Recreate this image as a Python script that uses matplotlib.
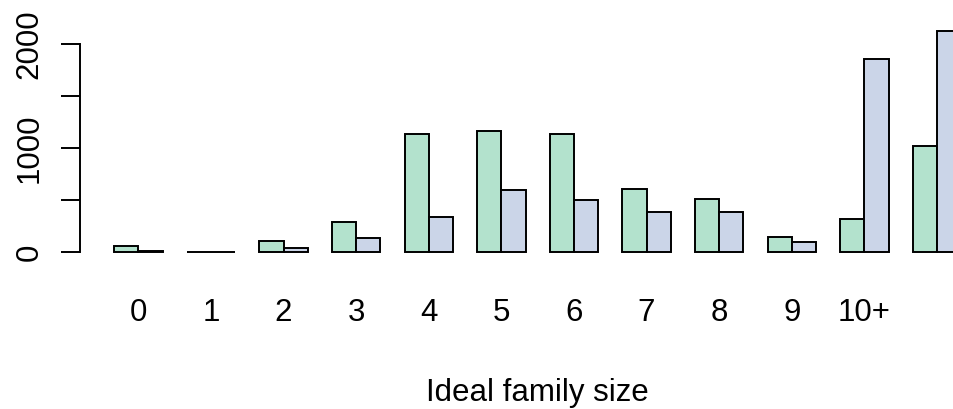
import numpy as np
import matplotlib
matplotlib.use("Agg")
import matplotlib.pyplot as plt

# ideal family size counts, two groups (green / blue)
categories = ["0", "1", "2", "3", "4", "5", "6", "7", "8", "9", "10+", ""]
green_counts = [55, 4, 106, 288, 1138, 1166, 1131, 606, 510, 147, 314, 1019]
blue_counts = [5, 3, 35, 138, 337, 593, 503, 382, 388, 93, 1853, 2122]
y_ticks = [0, 500, 1000, 1500, 2000]
y_labels = ["0", "", "1000", "", "2000"]

plt.rcParams['font.family'] = ['Liberation Sans', 'DejaVu Sans']

fig = plt.figure(figsize=(9.54, 4.09), dpi=100)
ax = fig.add_axes([0.0842, 0.3623, 0.9588, 0.5827])

n = len(categories)
left = np.arange(n) * 3 + 1
ax.bar(left, green_counts, width=1, align='edge', color='#B3E2CD',
       edgecolor='black', linewidth=1.4)
ax.bar(left + 1, blue_counts, width=1, align='edge', color='#CBD5E8',
       edgecolor='black', linewidth=1.4)

# R-style axis extents (4% padding)
xmax = left[-1] + 2
xr = xmax - left[0]
ax.set_xlim(left[0] - 0.04 * xr, xmax + 0.04 * xr)
ymax = max(max(green_counts), max(blue_counts))
ax.set_ylim(-0.04 * ymax, 1.04 * ymax)

for s in ['top', 'right', 'bottom']:
    ax.spines[s].set_visible(False)
ax.spines['left'].set_bounds(0, 2000)
ax.spines['left'].set_linewidth(1.4)

ax.set_yticks(y_ticks, y_labels, rotation=90, va='center', fontsize=22.5)
ax.tick_params(axis='y', length=13.7, width=1.4, pad=12)

ax.set_xticks(left + 1, categories, fontsize=22.5)
ax.tick_params(axis='x', length=0, pad=27)

ax.set_xlabel('Ideal family size', fontsize=22.5, labelpad=36)

fig.savefig('out.png', dpi=100)
